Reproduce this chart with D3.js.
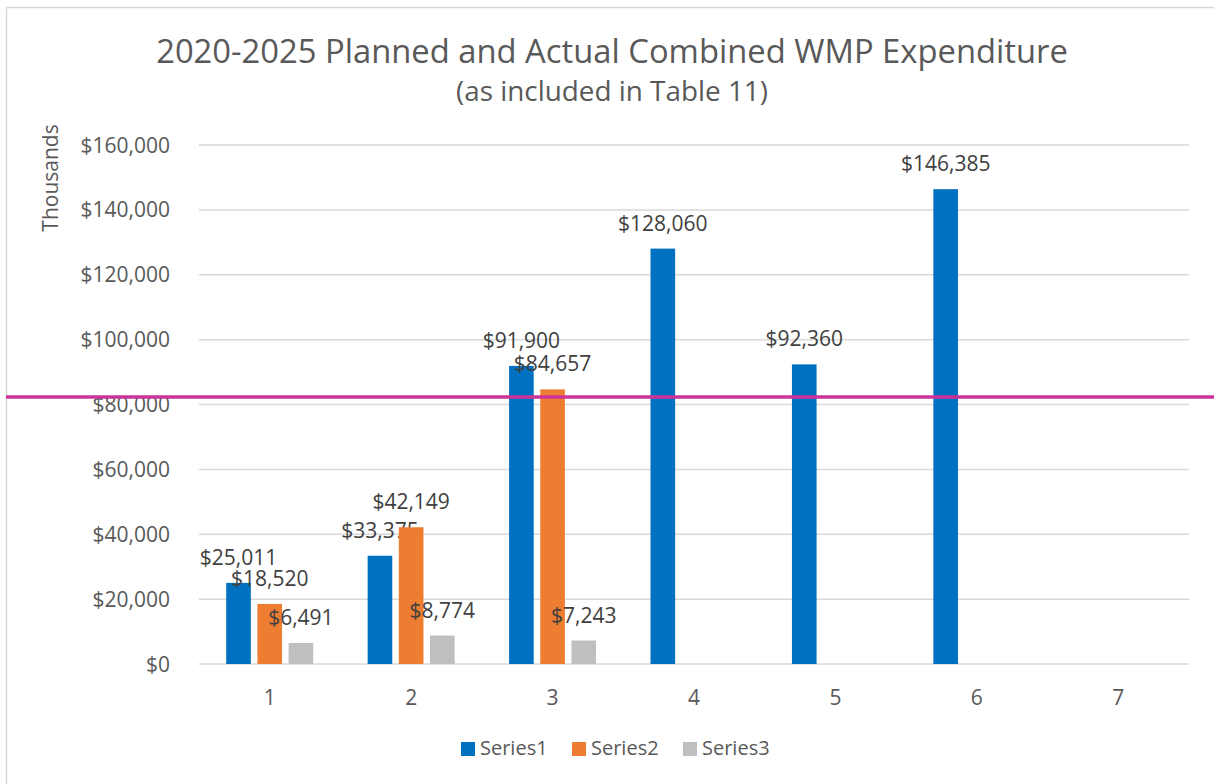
<!DOCTYPE html>
<html>
<head>
<meta charset="utf-8">
<script src="https://cdn.jsdelivr.net/npm/d3@7"></script>
<style>
  body { margin: 0; background: #fff; }
  svg { display: block; font-family: "Open Sans", sans-serif; }
</style>
</head>
<body>
<svg width="1214" height="784"></svg>
<script>
// chart data
var categories = ["1", "2", "3", "4", "5", "6", "7"];
var seriesNames = ["Series1", "Series2", "Series3"];
var series1 = [25011, 33375, 91900, 128060, 92360, 146385, null];
var series2 = [18520, 42149, 84657, null, null, null, null];
var series3 = [6491, 8774, 7243, null, null, null, null];
var yTicks = [0, 20000, 40000, 60000, 80000, 100000, 120000, 140000, 160000];
var colors = ["#0070C0", "#ED7D31", "#BFBFBF"];
var markerValue = 82300; // pink reference line

var svg = d3.select("svg");
var allSeries = [series1, series2, series3];

// chart area border
svg.append("rect")
  .attr("x", 6.5).attr("y", 7.5)
  .attr("width", 1300).attr("height", 900)
  .attr("fill", "none").attr("stroke", "#D9D9D9").attr("stroke-width", 1.5);

var x = d3.scaleBand().domain(categories).range([199, 1189]);
var y = d3.scaleLinear().domain([0, 160000]).range([664, 145]);
var xs = d3.scaleBand().domain(seriesNames)
  .range([x.bandwidth() / 2 - 43.5, x.bandwidth() / 2 + 43.5])
  .paddingInner(0.21);

var fmt = function(v) { return "$" + d3.format(",")(v); };

// gridlines
svg.append("g").selectAll("line")
  .data(yTicks)
  .enter().append("line")
  .attr("x1", 199).attr("x2", 1189)
  .attr("y1", function(d) { return y(d); })
  .attr("y2", function(d) { return y(d); })
  .attr("stroke", "#D9D9D9").attr("stroke-width", 1.5);

// y labels
svg.append("g").selectAll("text")
  .data(yTicks)
  .enter().append("text")
  .attr("x", 170)
  .attr("y", function(d) { return y(d); })
  .attr("dy", "0.36em")
  .attr("text-anchor", "end")
  .attr("font-size", 21)
  .attr("fill", "#595959")
  .text(fmt);

// x labels
svg.append("g").selectAll("text")
  .data(categories)
  .enter().append("text")
  .attr("x", function(d) { return x(d) + x.bandwidth() / 2; })
  .attr("y", 705)
  .attr("text-anchor", "middle")
  .attr("font-size", 21)
  .attr("fill", "#595959")
  .text(function(d) { return d; });

// bars and labels
allSeries.forEach(function(vals, si) {
  var pts = vals.map(function(v, i) { return { cat: categories[i], v: v }; })
    .filter(function(d) { return d.v != null; });
  var g = svg.append("g");
  g.selectAll("rect")
    .data(pts)
    .enter().append("rect")
    .attr("x", function(d) { return x(d.cat) + xs(seriesNames[si]); })
    .attr("y", function(d) { return y(d.v); })
    .attr("width", xs.bandwidth())
    .attr("height", function(d) { return y(0) - y(d.v); })
    .attr("fill", colors[si]);
  g.selectAll("text")
    .data(pts)
    .enter().append("text")
    .attr("x", function(d) { return x(d.cat) + xs(seriesNames[si]) + xs.bandwidth() / 2; })
    .attr("y", function(d) { return y(d.v) - 18; })
    .attr("text-anchor", "middle")
    .attr("font-size", 21)
    .attr("fill", "#404040")
    .text(function(d) { return fmt(d.v); });
});

// y axis title
svg.append("text")
  .attr("transform", "translate(58,178) rotate(-90)")
  .attr("text-anchor", "middle")
  .attr("font-size", 21)
  .attr("fill", "#595959")
  .text("Thousands");

// titles, fitted to the widths in the reference
function fitText(sel, size, width) {
  sel.attr("font-size", size);
  var len = sel.node().getComputedTextLength();
  sel.attr("font-size", size * width / len);
}
var title = svg.append("text")
  .attr("x", 612).attr("y", 63)
  .attr("text-anchor", "middle")
  .attr("fill", "#595959")
  .text("2020-2025 Planned and Actual Combined WMP Expenditure");
fitText(title, 32, 912);
var sub = svg.append("text")
  .attr("x", 612).attr("y", 101)
  .attr("text-anchor", "middle")
  .attr("fill", "#595959")
  .text("(as included in Table 11)");
fitText(sub, 24, 312);

// legend
var legend = svg.append("g");
var legX = [461, 572, 683];
seriesNames.forEach(function(name, i) {
  legend.append("rect")
    .attr("x", legX[i]).attr("y", 742)
    .attr("width", 14).attr("height", 14)
    .attr("fill", colors[i]);
  legend.append("text")
    .attr("x", legX[i] + 19).attr("y", 755)
    .attr("font-size", 20)
    .attr("fill", "#595959")
    .text(name);
});

// pink horizontal marker line across the whole frame
svg.append("line")
  .attr("x1", 6).attr("x2", 1214)
  .attr("y1", y(markerValue)).attr("y2", y(markerValue))
  .attr("stroke", "#CC3399").attr("stroke-width", 3.5);
</script>
</body>
</html>
